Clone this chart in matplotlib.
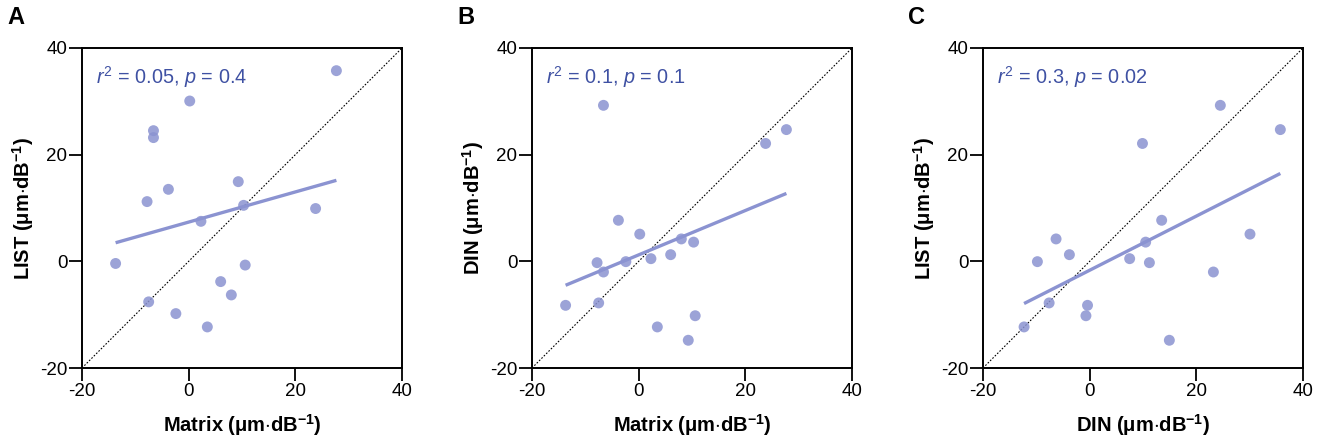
import matplotlib
matplotlib.use('Agg')
import matplotlib.pyplot as plt
import numpy as np

plt.rcParams['font.family'] = ['Liberation Sans', 'DejaVu Sans']
plt.rcParams['axes.unicode_minus'] = False
plt.rcParams['mathtext.fontset'] = 'custom'
plt.rcParams['mathtext.rm'] = 'Liberation Sans'
plt.rcParams['mathtext.it'] = 'Liberation Sans:italic'
plt.rcParams['mathtext.bf'] = 'Liberation Sans:bold'

# per-subject slopes (um/dB)
matrix = [27.7, 0.2, -6.6, -6.6, 9.3, -3.8, -7.8, 10.3, 23.8, 2.3,
          -13.7, 10.6, 6.0, 8.0, -7.5, -2.4, 3.5]
din = [24.7, 5.1, 29.25, -2.0, -14.8, 7.7, -0.25, 3.6, 22.1, 0.5,
       -8.25, -10.2, 1.25, 4.2, -7.8, -0.06, -12.3]
lst = [35.75, 30.06, 24.5, 23.2, 14.94, 13.5, 11.2, 10.5, 9.9, 7.5,
       -0.4, -0.7, -3.8, -6.3, -7.6, -9.8, -12.3]

letters = ['A', 'B', 'C']
xlabels = ['Matrix', 'Matrix', 'DIN']
ylabels = ['LIST', 'DIN', 'LIST']
stats = [('0.05', '0.4'), ('0.1', '0.1'), ('0.3', '0.02')]
xdata = [matrix, matrix, lst]
ydata = [lst, din, din]
ticks = [-20, 0, 20, 40]

dot_col = '#8b93d1'
txt_col = '#3f51a3'

fig = plt.figure(figsize=(13.2, 4.4), dpi=100)
lefts = [82, 532, 983]

for i in range(3):
    ax = fig.add_axes([lefts[i] / 1320, 72 / 440, 320 / 1320, 320 / 440])
    x = np.array(xdata[i])
    y = np.array(ydata[i])
    ax.plot([-20, 40], [-20, 40], ls=(0, (1.5, 1.5)), color='black', lw=0.8, zorder=1)
    ax.scatter(x, y, s=62, color=dot_col, alpha=0.85, edgecolors='none', zorder=3)
    k, b = np.polyfit(x, y, 1)
    xx = np.array([x.min(), x.max()])
    ax.plot(xx, k * xx + b, color=dot_col, lw=2.4, solid_capstyle='butt', zorder=2)
    ax.set_xlim(-20, 40)
    ax.set_ylim(-20, 40)
    ax.set_xticks(ticks)
    ax.set_yticks(ticks)
    ax.tick_params(direction='out', length=9.5, width=1.3, labelsize=13.5, pad=1)
    for sp in ax.spines.values():
        sp.set_linewidth(1.4)
    unit = r' ($\mathbf{\mu}$m$\mathbf{\cdot}$dB$^{\mathbf{-1}}$)'
    ax.set_xlabel(xlabels[i] + unit, fontsize=14.5, fontweight='bold', labelpad=9)
    ax.set_ylabel(ylabels[i] + unit, fontsize=14.5, fontweight='bold', labelpad=3)
    ax.text(0.045, 0.91, r'$r^2$ = %s, $p$ = %s' % stats[i], transform=ax.transAxes,
            color=txt_col, fontsize=14.3, va='center', ha='left')
    fig.text((lefts[i] - 75) / 1320, 1 - 18 / 440, letters[i], fontsize=17,
             fontweight='bold', va='center', ha='left')

fig.savefig('out.png', dpi=100)
